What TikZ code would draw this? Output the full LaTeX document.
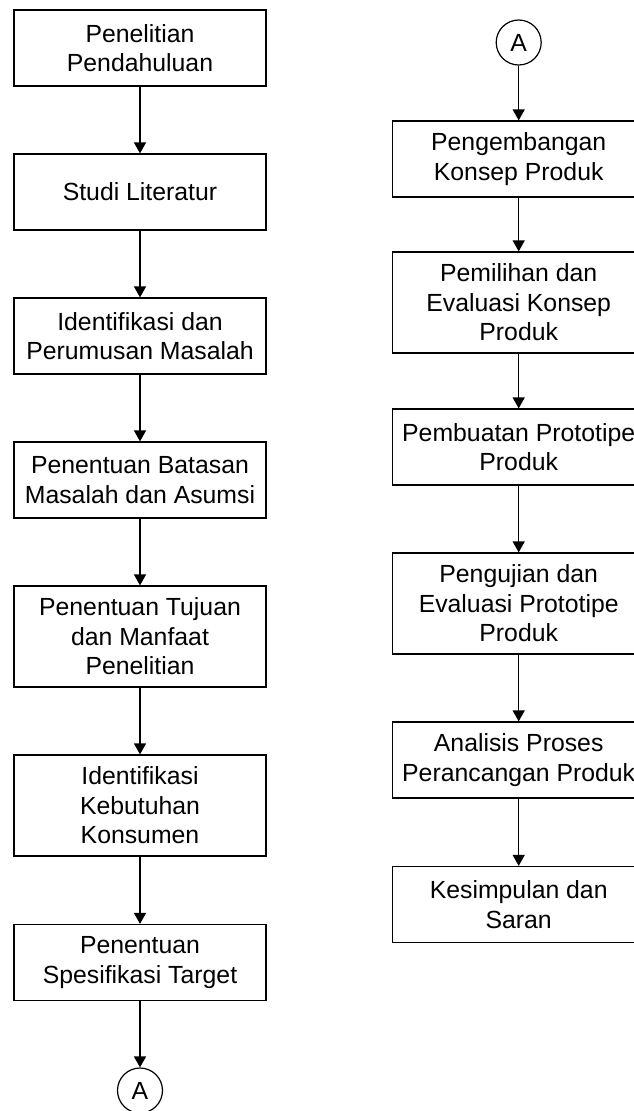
\documentclass[tikz,border=0pt]{standalone}
\usepackage{fontspec}
\setmainfont{Liberation Sans}
\usetikzlibrary{arrows.meta}
\begin{document}
\begin{tikzpicture}[x=1pt,y=-1pt,
  box/.style={draw=black,line width=1.2pt,minimum width=252pt,inner sep=0pt,align=center,
    font=\fontsize{24.8}{29.5}\selectfont},
  two/.style={box,minimum height=76pt},
  three/.style={box,minimum height=101pt},
  conn/.style={draw=black,line width=1.2pt,circle,minimum size=45pt,inner sep=0pt,
    font=\fontsize{24.8}{29.5}\selectfont},
  arr/.style={line width=1.2pt,-{Triangle[width=12pt,length=11pt]}}]
\useasboundingbox (0,0) rectangle (633,1111);
% left column
\node[two]   (b1) at (140,48)    {Penelitian\\Pendahuluan};
\node[two]   (b2) at (140,192)   {Studi Literatur};
\node[two]   (b3) at (140,336)   {Identifikasi dan\\Perumusan Masalah};
\node[two]   (b4) at (140,480)   {Penentuan Batasan\\Masalah dan Asumsi};
\node[three] (b5) at (140,636.5) {Penentuan Tujuan\\dan Manfaat\\Penelitian};
\node[three] (b6) at (140,805.5) {Identifikasi\\Kebutuhan\\Konsumen};
\node[two]   (b7) at (140,962.5) {Penentuan\\Spesifikasi Target};
\node[conn]  (ca) at (140,1090.5) {A};
% right column
\node[conn]  (cb) at (518.7,42.5) {A};
\node[two]   (r1) at (518.7,159)   {Pengembangan\\Konsep Produk};
\node[three] (r2) at (518.7,302.5) {Pemilihan dan\\Evaluasi Konsep\\Produk};
\node[two]   (r3) at (518.7,447)   {Pembuatan Prototipe\\Produk};
\node[three] (r4) at (518.7,603.5) {Pengujian dan\\Evaluasi Prototipe\\Produk};
\node[two]   (r5) at (518.7,760)   {Analisis Proses\\Perancangan Produk};
\node[two]   (r6) at (518.7,904.5) {Kesimpulan dan\\Saran};
% connectors
\draw[arr] (b1) -- (b2);
\draw[arr] (b2) -- (b3);
\draw[arr] (b3) -- (b4);
\draw[arr] (b4) -- (b5);
\draw[arr] (b5) -- (b6);
\draw[arr] (b6) -- (b7);
\draw[arr] (b7) -- (ca);
\draw[arr] (cb) -- (r1);
\draw[arr] (r1) -- (r2);
\draw[arr] (r2) -- (r3);
\draw[arr] (r3) -- (r4);
\draw[arr] (r4) -- (r5);
\draw[arr] (r5) -- (r6);
\end{tikzpicture}
\end{document}
